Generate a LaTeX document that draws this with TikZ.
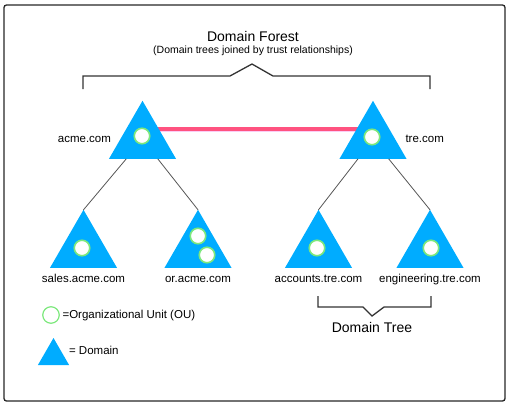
\documentclass[tikz,border=0pt]{standalone}
\usepackage{fontspec}
\setmainfont{Liberation Sans}
\usetikzlibrary{positioning,shapes.geometric}
\pgfdeclarelayer{background}
\pgfsetlayers{background,main}
\definecolor{domainblue}{RGB}{0,172,255}
\definecolor{trustpink}{RGB}{255,82,128}
\definecolor{trustshade}{RGB}{250,205,245}
\definecolor{ougreen}{RGB}{125,232,125}
\definecolor{linkgray}{RGB}{85,85,85}

\begin{document}
\begin{tikzpicture}[
        x=1pt,
        y=-1pt,
        font=\fontsize{11.5}{13}\selectfont,
        frame/.style={line width=1.3pt, black!85, rounded corners=2.5pt},
        domainbox/.style={regular polygon, regular polygon sides=3, fill=domainblue,
            minimum size=77.4pt, inner sep=0pt, outer sep=0pt},
        ou/.style={circle, draw=ougreen, line width=1.6pt, fill=white,
            minimum size=15.5pt, inner sep=0pt},
        link/.style={linkgray, line width=0.8pt},
        trust/.style={trustpink, line width=3.4pt},
        brace/.style={black!80, line width=1.3pt},
        lbl/.style={inner sep=1pt, text height=8pt, text depth=2pt},
        headline/.style={font=\fontsize{14}{16}\selectfont, inner sep=1pt},
        subline/.style={font=\fontsize{10.5}{12}\selectfont, inner sep=1pt}
    ]
        \useasboundingbox (0,0) rectangle (512,408);
        \draw[frame] (4,5) rectangle (505,401);

        \node[headline] (forest) at (253,36) {Domain Forest};
        \node[subline, below=2pt of forest] (forestsub) {(Domain trees joined by trust relationships)};
        \draw[brace] (83,89) -- (83,76) -- (230,76) -- (252,64) -- (273,76) -- (430,76) -- (430,89);

        \foreach \n/\x/\y in {acme/142.5/139.5, tre/373/139.5, sales/83.5/248.5,
                oracme/198/248.5, accounts/318.5/248.5, engineering/430/248.5} {
            \node[domainbox] (\n) at (\x,\y) {};
        }
        \node[lbl, left=8pt of acme] (acme-lbl) {acme.com};
        \node[lbl, right=9pt of tre] (tre-lbl) {tre.com};
        \foreach \n/\lab in {sales/sales.acme.com, oracme/or.acme.com,
                accounts/accounts.tre.com, engineering/engineering.tre.com} {
            \node[lbl, below=5pt of \n] (\n-lbl) {\lab};
        }

        % trust relationship between the two trees
        \begin{pgfonlayer}{background}
            \draw[trustshade, line width=1.6pt] ([yshift=8pt]acme.center) -- ([yshift=8pt]tre.center);
            \draw[trust] ([yshift=10.5pt]acme.center) -- ([yshift=10.5pt]tre.center);
        \end{pgfonlayer}

        \foreach \p/\c in {acme/sales, acme/oracme, tre/accounts, tre/engineering} {
            \draw[link] (\c.corner 1) -- (\p);
        }

        \node[ou] (acme-ou) at (142,136) {};
        \node[ou] (tre-ou) at (372,137) {};
        \node[ou] (sales-ou) at (82,248) {};
        \node[ou] (oracme-ou1) at (198,236) {};
        \node[ou] (oracme-ou2) at (207,255) {};
        \node[ou] (accounts-ou) at (317,248) {};
        \node[ou] (engineering-ou) at (431,248) {};

        \draw[brace] (318,296) -- (318,307) -- (363,307) -- (372,316) -- (384,307) -- (431,307) -- (431,296);
        \node[headline] (tree) at (372,327) {Domain Tree};

        % legend
        \node[ou, fill=none, minimum size=16.5pt, line width=1.2pt] (leg-ou) at (51,315) {};
        \node[lbl, right=1.5pt of leg-ou] (leg-ou-lbl) {=Organizational Unit (OU)};
        \node[domainbox, minimum size=36pt] (leg-domain) at (53.5,356) {};
        \node[lbl, right=4pt of leg-domain, yshift=5pt] (leg-domain-lbl) {= Domain};
    \end{tikzpicture}
\end{document}
